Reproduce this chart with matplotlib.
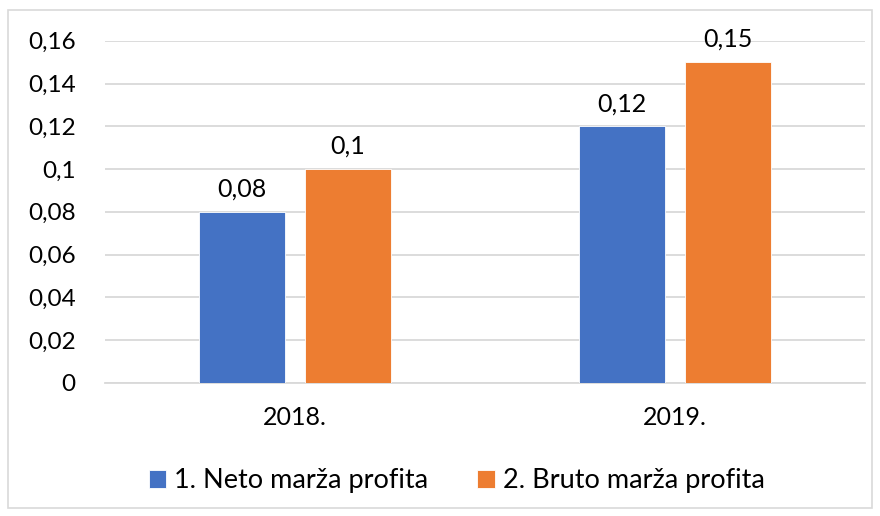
import matplotlib.pyplot as plt
import matplotlib.patches as patches
import numpy as np

plt.rcParams['font.family'] = ['Lato', 'DejaVu Sans']

years = ['2018.', '2019.']
neto = [0.08, 0.12]
bruto = [0.10, 0.15]
neto_labels = ['0,08', '0,12']
bruto_labels = ['0,1', '0,15']
yticks = [0, 0.02, 0.04, 0.06, 0.08, 0.10, 0.12, 0.14, 0.16]
ytick_labels = ['0', '0,02', '0,04', '0,06', '0,08', '0,1', '0,12', '0,14', '0,16']

blue = '#4472C4'
orange = '#ED7D31'
grid = '#D9D9D9'

fig = plt.figure(figsize=(8.8, 5.16), dpi=100)
ax = fig.add_axes([0.119, 0.258, 0.864, 0.663])

x = np.arange(len(years))
w = 0.226
off = 0.14
b1 = ax.bar(x - off, neto, w, color=blue, edgecolor='white', linewidth=0.6,
            label='1. Neto marža profita', zorder=3)
b2 = ax.bar(x + off, bruto, w, color=orange, edgecolor='white', linewidth=0.6,
            label='2. Bruto marža profita', zorder=3)

ax.bar_label(b1, labels=neto_labels, padding=8, fontsize=18)
ax.bar_label(b2, labels=bruto_labels, padding=8, fontsize=18)

ax.set_xlim(-0.5, 1.5)
ax.set_ylim(0, 0.16)
ax.set_xticks(x)
ax.set_xticklabels(years, fontsize=18)
ax.set_yticks(yticks)
ax.set_yticklabels(ytick_labels, fontsize=17.5)
ax.tick_params(axis='y', length=0, pad=21)
ax.tick_params(axis='x', length=0, pad=17)
ax.yaxis.grid(True, color=grid, linewidth=1.3, zorder=0)
for s in ['top', 'right', 'left']:
    ax.spines[s].set_visible(False)
ax.spines['bottom'].set_color(grid)
ax.spines['bottom'].set_linewidth(1.3)

fig.legend(loc='center', bbox_to_anchor=(0.519, 0.068), ncol=2, frameon=False,
           fontsize=19.5, handlelength=0.65, handleheight=0.65, handletextpad=0.3,
           columnspacing=1.8)

fig.patches.append(patches.Rectangle((8 / 880, 8 / 516), 864 / 880, 498 / 516,
                                     transform=fig.transFigure, fill=False,
                                     edgecolor=grid, linewidth=1.2))

fig.savefig('out.png', dpi=100)
